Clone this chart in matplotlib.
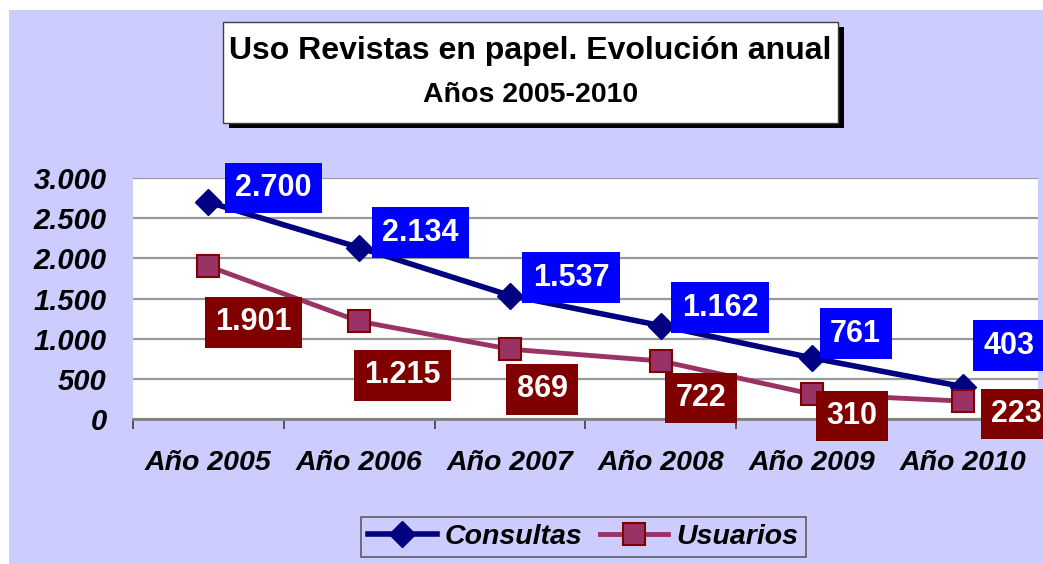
import matplotlib
matplotlib.use("Agg")
import matplotlib.pyplot as plt
from matplotlib.patches import Rectangle
from matplotlib.lines import Line2D

# ─── Datos ─────────────────────────────────────────────────────────
years     = ["Año 2005", "Año 2006", "Año 2007", "Año 2008", "Año 2009", "Año 2010"]
consultas = [2700, 2134, 1537, 1162, 761, 403]
usuarios  = [1901, 1215, 869, 722, 310, 223]
y_ticks   = [0, 500, 1000, 1500, 2000, 2500, 3000]

# desplazamiento (px) de las etiquetas respecto al punto
off_cons = [(65, 14), (61, 15), (61, 18), (59, 18), (44, 24), (46, 41)]
off_usu  = [(45, -56), (43, -54), (32, -40), (40, -37), (40, -22), (54, -13)]

# ─── Estilo ────────────────────────────────────────────────────────
plt.rcParams["font.family"] = ["Liberation Sans", "DejaVu Sans"]
BG    = "#CCCCFF"
NAVY  = "#000080"
PLUM  = "#993366"
DRED  = "#800000"
BLUE  = "#0000FF"

W, H = 1043, 564
fig = plt.figure(figsize=(W / 100, H / 100), dpi=100, facecolor="white")
fig.patches.append(Rectangle((9 / W, 0), 1 - 9 / W, (H - 10) / H,
                             transform=fig.transFigure, facecolor=BG,
                             edgecolor="none", zorder=-10))

ax = fig.add_axes([133 / W, 145 / H, (1038 - 133) / W, 241 / H])
ax.set_facecolor("white")
x = list(range(len(years)))

ax.plot(x, consultas, color=NAVY, lw=4, marker="D", ms=13,
        mfc=NAVY, mec=NAVY, zorder=3, clip_on=False)
ax.plot(x, usuarios, color=PLUM, lw=3.5, marker="s", ms=16,
        mfc=PLUM, mec=DRED, mew=1.5, zorder=4, clip_on=False)

lbl = dict(textcoords="offset pixels", ha="center", va="center",
           fontsize=22, fontweight="bold", color="white",
           annotation_clip=False, zorder=6)
for xi, v, (dx, dy) in zip(x, consultas, off_cons):
    ax.annotate(f"{v:,}".replace(",", "."), (xi, v), xytext=(dx, dy),
                bbox=dict(boxstyle="square,pad=0.34", fc=BLUE, ec="none"), **lbl)
for xi, v, (dx, dy) in zip(x, usuarios, off_usu):
    ax.annotate(f"{v:,}".replace(",", "."), (xi, v), xytext=(dx, dy),
                bbox=dict(boxstyle="square,pad=0.34", fc=DRED, ec="none"), **lbl)

# ejes
ax.set_ylim(0, 3000)
ax.set_yticks(y_ticks)
ax.set_yticklabels([f"{t:,}".replace(",", ".") for t in y_ticks],
                   fontsize=21, fontweight="bold", style="italic")
ax.tick_params(axis="y", length=0, pad=19)
ax.yaxis.grid(True, color="#999999", lw=1.6)
ax.set_axisbelow(True)

ax.set_xlim(-0.5, len(years) - 0.5)
ax.set_xticks([i - 0.5 for i in range(len(years) + 1)])
ax.set_xticklabels([])
ax.set_xticks(x, minor=True)
ax.set_xticklabels(years, minor=True, fontsize=20.5, fontweight="bold", style="italic")
ax.tick_params(axis="x", which="major", length=7, width=1.2, color="#404040")
ax.tick_params(axis="x", which="minor", length=0, pad=22)

for s in ("top", "right", "left"):
    ax.spines[s].set_visible(False)
ax.spines["bottom"].set_color("#808080")
ax.spines["bottom"].set_linewidth(2)

# título en caja con sombra
tx0, tx1, ty0, ty1 = 223, 838, 22, 123
fig.patches.append(Rectangle(((tx0 + 6) / W, 1 - (ty1 + 5) / H), (tx1 - tx0) / W,
                             (ty1 - ty0) / H, transform=fig.transFigure,
                             facecolor="black", edgecolor="none", zorder=1))
fig.patches.append(Rectangle((tx0 / W, 1 - ty1 / H), (tx1 - tx0) / W,
                             (ty1 - ty0) / H, transform=fig.transFigure,
                             facecolor="white", edgecolor="#404040", lw=1, zorder=2))
fig.text((tx0 + tx1) / 2 / W, 1 - 51 / H, "Uso Revistas en papel. Evolución anual",
         ha="center", va="center", fontsize=23, fontweight="bold", zorder=3)
fig.text((tx0 + tx1) / 2 / W, 1 - 95 / H, "Años 2005-2010",
         ha="center", va="center", fontsize=20.5, fontweight="bold", zorder=3)

# leyenda
handles = [
    Line2D([], [], color=NAVY, lw=4, marker="D", ms=13, mfc=NAVY, mec=NAVY),
    Line2D([], [], color=PLUM, lw=3.5, marker="s", ms=16, mfc=PLUM, mec=DRED, mew=1.5),
]
leg = fig.legend(handles, ["Consultas", "Usuarios"], loc="center",
                 bbox_to_anchor=(583.5 / W, 27 / H), ncol=2, frameon=True,
                 fancybox=False, handlelength=2.4, handletextpad=0.3,
                 columnspacing=0.6, borderpad=0.25,
                 prop=dict(size=20.5, weight="bold", style="italic"))
leg.get_frame().set_facecolor("none")
leg.get_frame().set_edgecolor("#404040")
leg.get_frame().set_linewidth(1.2)

fig.savefig("out.png", dpi=100, facecolor=fig.get_facecolor())
